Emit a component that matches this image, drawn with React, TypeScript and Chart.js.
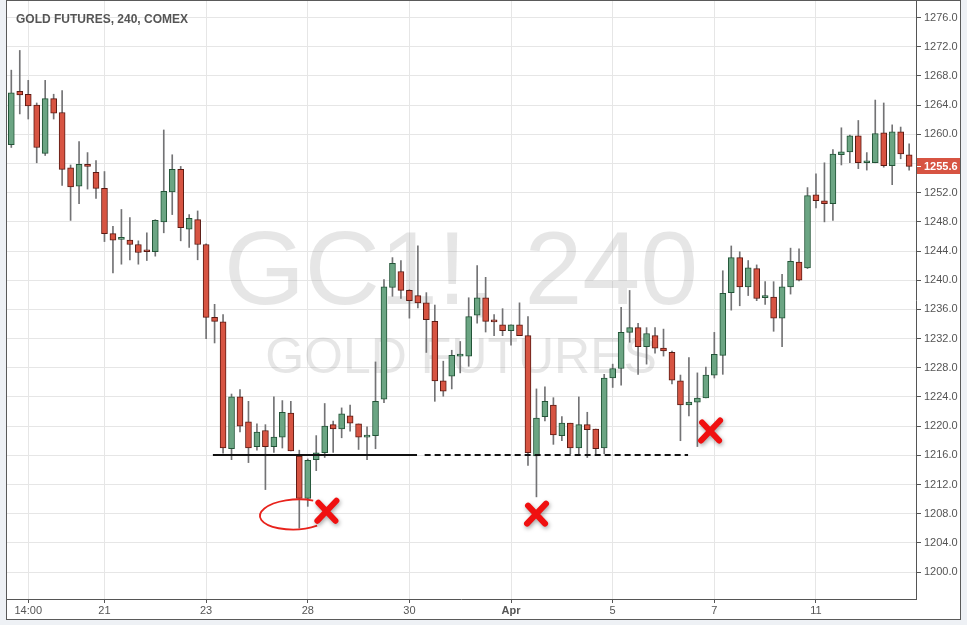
import React, { useEffect, useRef } from "react";
import { Chart, registerables } from "chart.js";

Chart.register(...registerables);

// ---- data (4h candles) ----
const opens = [
  1258.6, 1265.9, 1265.5, 1264.0, 1257.4, 1264.9, 1263.0, 1255.4, 1252.9, 1255.9,
  1254.8, 1252.6, 1246.4, 1245.6, 1245.5, 1244.9, 1244.0, 1243.9, 1248.0, 1252.1,
  1255.2, 1247.0, 1248.3, 1244.9, 1234.9, 1234.3, 1216.9, 1224.0, 1220.6, 1217.2,
  1219.4, 1217.2, 1218.5, 1221.8, 1215.9, 1210.1, 1215.4, 1216.35, 1220.2, 1219.6,
  1221.4, 1220.3, 1218.5, 1218.7, 1223.7, 1239.0, 1241.2, 1238.6, 1237.9, 1236.9,
  1234.35, 1226.2, 1226.85, 1229.6, 1229.6, 1235.2, 1237.6, 1234.4, 1233.9, 1233.1,
  1233.9, 1232.4, 1215.9, 1221.3, 1222.9, 1218.7, 1220.4, 1217.0, 1220.2, 1219.6,
  1217.0, 1226.6, 1227.9, 1232.85, 1233.5, 1230.9, 1232.4, 1230.7, 1230.1, 1226.2,
  1222.9, 1223.3, 1223.85, 1227.0, 1229.7, 1238.3, 1243.1, 1239.1, 1241.6, 1237.6,
  1237.7, 1234.8, 1239.1, 1242.5, 1241.7, 1251.7, 1250.9, 1250.5, 1257.2, 1257.6,
  1259.8, 1256.1, 1256.1, 1260.2, 1255.7, 1260.35, 1257.2,
];
const highs = [
  1268.8, 1271.5, 1267.4, 1264.3, 1267.4, 1265.5, 1266.0, 1255.8, 1259.0, 1257.5,
  1256.4, 1254.9, 1247.4, 1249.7, 1248.6, 1245.4, 1246.5, 1248.3, 1260.6, 1257.2,
  1255.6, 1249.0, 1249.5, 1245.0, 1236.7, 1235.3, 1224.4, 1225.0, 1223.4, 1220.3,
  1220.2, 1224.0, 1223.5, 1223.4, 1216.7, 1215.5, 1218.7, 1223.1, 1220.7, 1222.5,
  1222.9, 1220.3, 1219.9, 1228.8, 1240.1, 1243.1, 1242.7, 1238.7, 1244.7, 1238.3,
  1236.6, 1228.9, 1230.4, 1231.6, 1237.6, 1242.0, 1240.4, 1235.3, 1236.1, 1233.9,
  1236.9, 1235.0, 1225.1, 1225.4, 1223.9, 1221.3, 1220.4, 1224.0, 1221.9, 1219.6,
  1227.1, 1228.5, 1236.3, 1238.6, 1234.1, 1233.5, 1233.5, 1233.3, 1230.3, 1227.0,
  1229.4, 1227.3, 1228.1, 1232.85, 1241.3, 1244.7, 1243.9, 1242.7, 1242.1, 1239.8,
  1239.8, 1240.8, 1244.4, 1244.3, 1252.7, 1254.6, 1256.1, 1257.9, 1260.9, 1259.9,
  1261.9, 1257.5, 1264.7, 1264.3, 1261.3, 1261.0, 1258.7,
];
const lows = [
  1258.2, 1262.8, 1262.1, 1256.1, 1257.1, 1262.1, 1253.0, 1248.2, 1250.5, 1252.5,
  1251.2, 1245.3, 1241.0, 1242.2, 1242.8, 1242.2, 1242.7, 1243.3, 1246.5, 1249.0,
  1245.4, 1244.5, 1242.8, 1232.0, 1231.4, 1216.3, 1215.4, 1219.2, 1215.0, 1216.7,
  1211.3, 1216.4, 1217.0, 1216.6, 1206.0, 1209.0, 1213.9, 1215.7, 1216.4, 1218.4,
  1219.3, 1216.8, 1215.4, 1216.9, 1223.2, 1237.8, 1237.5, 1234.8, 1236.2, 1230.1,
  1223.4, 1224.1, 1225.1, 1227.3, 1228.2, 1234.1, 1232.9, 1232.4, 1232.4, 1231.1,
  1232.4, 1214.6, 1210.3, 1220.7, 1217.5, 1218.0, 1216.2, 1216.2, 1215.7, 1216.2,
  1216.2, 1225.3, 1225.6, 1231.5, 1227.1, 1228.5, 1230.0, 1229.6, 1225.8, 1218.0,
  1221.4, 1217.2, 1223.85, 1226.6, 1227.1, 1235.9, 1236.5, 1237.9, 1237.2, 1236.7,
  1233.0, 1230.9, 1238.1, 1239.9, 1241.6, 1249.9, 1248.0, 1248.2, 1255.8, 1256.1,
  1255.3, 1255.1, 1256.1, 1255.5, 1253.1, 1256.65, 1255.1,
];
const closes = [
  1265.7, 1265.4, 1263.9, 1258.2, 1264.9, 1262.9, 1255.2, 1252.8, 1255.9, 1255.6,
  1252.6, 1246.4, 1245.5, 1245.7, 1244.9, 1243.8, 1243.9, 1248.2, 1252.2, 1255.2,
  1247.2, 1248.5, 1244.9, 1234.9, 1234.35, 1217.0, 1224.0, 1220.0, 1217.0, 1219.2,
  1217.2, 1218.5, 1221.9, 1216.6, 1210.1, 1215.3, 1216.35, 1220.0, 1219.6, 1221.7,
  1220.4, 1218.5, 1218.6, 1223.4, 1239.1, 1242.3, 1238.6, 1237.2, 1236.9, 1234.6,
  1226.2, 1224.8, 1229.7, 1229.7, 1235.0, 1237.6, 1234.35, 1234.3, 1233.1, 1233.9,
  1232.4, 1216.35, 1221.1, 1223.4, 1218.8, 1220.4, 1217.0, 1220.2, 1219.5, 1216.9,
  1226.6, 1227.9, 1232.85, 1233.5, 1230.9, 1232.7, 1230.7, 1230.3, 1226.3, 1222.9,
  1223.3, 1223.85, 1227.0, 1229.85, 1238.2, 1243.1, 1239.1, 1241.7, 1237.5, 1237.9,
  1234.8, 1239.1, 1242.6, 1240.0, 1251.6, 1250.9, 1250.5, 1257.3, 1257.6, 1259.8,
  1256.1, 1256.3, 1260.1, 1255.7, 1260.35, 1257.3, 1255.6,
];

const xTickIndex = [2, 11, 23, 35, 47, 59, 71, 83, 95];
const xTickLabels = ["14:00", "21", "23", "28", "30", "Apr", "5", "7", "11"];
const yTickValues = [
  1200, 1204, 1208, 1212, 1216, 1220, 1224, 1228, 1232, 1236, 1240, 1244, 1248,
  1252, 1256, 1260, 1264, 1268, 1272, 1276,
];

const titleText = "GOLD FUTURES, 240, COMEX";
const watermarkBig = "GC1!, 240";
const watermarkSmall = "GOLD FUTURES";

// annotations (in data units: candle index / price)
const solidLevel = { from: 23.8, to: 47.9, price: 1216 };
const dashedLevel = { from: 48.8, to: 79.9, price: 1216.1 };
const crossMarks = [
  { idx: 37.2, price: 1208.4 },
  { idx: 61.95, price: 1208.0 },
  { idx: 82.5, price: 1219.4 },
];
const circleMark = { idx: 33.6, price: 1207.9 };

const UP_FILL = "#6ba583";
const UP_BORDER = "#225437";
const DOWN_FILL = "#d75442";
const DOWN_BORDER = "#5b1a13";
const WICK = "#737375";
const FONT = '"Liberation Sans", Arial, sans-serif';

export default function App() {
  const ref = useRef<HTMLCanvasElement | null>(null);

  useEffect(() => {
    const canvas = ref.current;
    if (!canvas) return;
    const isUp = opens.map((o, i) => closes[i] >= o);

    const framePlugin = {
      id: "frame",
      beforeDraw(chart: any) {
        const { ctx } = chart;
        ctx.save();
        ctx.fillStyle = "#eef1f5";
        ctx.fillRect(0, 0, chart.width, chart.height);
        ctx.fillStyle = "#ffffff";
        ctx.fillRect(6, 0, 955, 620);
        ctx.restore();
      },
      beforeDatasetsDraw(chart: any) {
        const { ctx, chartArea } = chart;
        ctx.save();
        ctx.beginPath();
        ctx.rect(chartArea.left, chartArea.top, chartArea.right - chartArea.left, chartArea.bottom - chartArea.top);
        ctx.clip();
        const cx = (chartArea.left + chartArea.right) / 2;
        ctx.fillStyle = "rgba(140,140,140,0.22)";
        ctx.textAlign = "center";
        ctx.textBaseline = "alphabetic";
        ctx.font = `104px ${FONT}`;
        ctx.fillText(watermarkBig, cx, 304);
        ctx.font = `50px ${FONT}`;
        ctx.fillText(watermarkSmall, cx, 373);
        ctx.restore();
      },
      afterDatasetsDraw(chart: any) {
        const { ctx } = chart;
        const xs = chart.scales.x;
        const ys = chart.scales.y;
        ctx.save();
        // solid support line
        ctx.strokeStyle = "#111111";
        ctx.lineWidth = 2;
        ctx.beginPath();
        let y = Math.round(ys.getPixelForValue(solidLevel.price));
        ctx.moveTo(xs.getPixelForValue(solidLevel.from), y);
        ctx.lineTo(xs.getPixelForValue(solidLevel.to), y);
        ctx.stroke();
        // dashed line
        ctx.setLineDash([6, 4]);
        ctx.beginPath();
        y = Math.round(ys.getPixelForValue(dashedLevel.price));
        ctx.moveTo(xs.getPixelForValue(dashedLevel.from), y);
        ctx.lineTo(xs.getPixelForValue(dashedLevel.to), y);
        ctx.stroke();
        ctx.setLineDash([]);
        // ellipse
        ctx.strokeStyle = "#e8231c";
        ctx.lineWidth = 1.8;
        ctx.beginPath();
        ctx.ellipse(
          xs.getPixelForValue(circleMark.idx),
          ys.getPixelForValue(circleMark.price),
          36, 15, -0.05,
          (-60 * Math.PI) / 180, (55 * Math.PI) / 180, true
        );
        ctx.stroke();
        // crosses
        for (const m of crossMarks) {
          const cx = xs.getPixelForValue(m.idx);
          const cy = ys.getPixelForValue(m.price);
          ctx.save();
          ctx.shadowColor = "rgba(0,0,0,0.35)";
          ctx.shadowBlur = 4;
          ctx.shadowOffsetX = 1;
          ctx.shadowOffsetY = 2;
          ctx.strokeStyle = "#f01010";
          ctx.lineWidth = 6;
          ctx.lineCap = "round";
          ctx.beginPath();
          ctx.moveTo(cx - 9, cy + 10);
          ctx.lineTo(cx + 10, cy - 10);
          ctx.moveTo(cx - 8, cy - 8);
          ctx.lineTo(cx + 9, cy + 10);
          ctx.stroke();
          ctx.restore();
        }
        ctx.restore();
      },
      afterDraw(chart: any) {
        const { ctx } = chart;
        const ys = chart.scales.y;
        ctx.save();
        // outer frame
        ctx.strokeStyle = "#5a5a5a";
        ctx.lineWidth = 1;
        ctx.strokeRect(6.5, 0.5, 954, 619);
        // title
        ctx.fillStyle = "#555555";
        ctx.font = `bold 12px ${FONT}`;
        ctx.textAlign = "left";
        ctx.textBaseline = "alphabetic";
        ctx.fillText(titleText, 16, 23);
        // last price label
        const last = closes[closes.length - 1];
        const py = ys.getPixelForValue(last);
        ctx.fillStyle = DOWN_FILL;
        ctx.fillRect(917, Math.round(py) - 8, 43, 16);
        ctx.strokeStyle = "#ffffff";
        ctx.beginPath();
        ctx.moveTo(917, Math.round(py) + 0.5);
        ctx.lineTo(921, Math.round(py) + 0.5);
        ctx.stroke();
        ctx.fillStyle = "#ffffff";
        ctx.font = `bold 11px ${FONT}`;
        ctx.textBaseline = "middle";
        ctx.fillText(last.toFixed(1), 924, Math.round(py) + 0.5);
        ctx.restore();
      },
    };

    const chart = new Chart(canvas, {
      type: "bar",
      data: {
        datasets: [
          {
            label: "wick",
            data: lows.map((l, i) => ({ x: i, y: [l, highs[i]] })) as any,
            backgroundColor: WICK,
            borderWidth: 0,
            barThickness: 1,
            grouped: false,
            order: 2,
          },
          {
            label: "body",
            data: opens.map((o, i) => ({ x: i, y: [o, closes[i]] })) as any,
            backgroundColor: isUp.map((u) => (u ? UP_FILL : DOWN_FILL)),
            borderColor: isUp.map((u) => (u ? UP_BORDER : DOWN_BORDER)),
            borderWidth: 1,
            borderSkipped: false,
            barThickness: 6,
            minBarLength: 2,
            grouped: false,
            order: 1,
          },
        ],
      },
      plugins: [framePlugin],
      options: {
        animation: false,
        responsive: false,
        devicePixelRatio: 1,
        layout: { padding: { left: 6, top: 1, right: 7, bottom: 6 } },
        plugins: { legend: { display: false }, tooltip: { enabled: false } },
        scales: {
          x: {
            type: "linear",
            position: "bottom",
            offset: false,
            min: -0.626,
            max: 106.81,
            afterBuildTicks: (s: any) => {
              s.ticks = xTickIndex.map((v) => ({ value: v }));
            },
            afterFit: (s: any) => {
              s.height = 20;
              s.paddingLeft = 0;
              s.paddingRight = 0;
            },
            ticks: {
              autoSkip: false,
              maxRotation: 0,
              padding: 1,
              color: "#555555",
              font: (c: any) => ({
                family: FONT,
                size: 11,
                weight: c.tick && c.tick.value === 59 ? "bold" : "normal",
              }),
              callback: (v: any) => {
                const k = xTickIndex.indexOf(Number(v));
                return k >= 0 ? xTickLabels[k] : "";
              },
            },
            grid: { offset: false, color: "#e6e6e6", tickColor: "#555555", tickLength: 4 },
            border: { display: true, color: "#555555" },
          },
          y: {
            type: "linear",
            position: "right",
            min: 1196.3,
            max: 1278.28,
            afterBuildTicks: (s: any) => {
              s.ticks = yTickValues.map((v) => ({ value: v }));
            },
            afterFit: (s: any) => {
              s.width = 44;
              s.paddingTop = 0;
              s.paddingBottom = 0;
            },
            ticks: {
              padding: 3,
              color: "#555555",
              font: { family: FONT, size: 11 },
              callback: (v: any) => Number(v).toFixed(1),
            },
            grid: { color: "#e6e6e6", tickColor: "#555555", tickLength: 5 },
            border: { display: true, color: "#555555" },
          },
        },
      },
    });
    return () => chart.destroy();
  }, []);

  return (
    <canvas
      ref={ref}
      width={967}
      height={625}
      style={{ position: "fixed", left: 0, top: 0, width: 967, height: 625 }}
    />
  );
}
